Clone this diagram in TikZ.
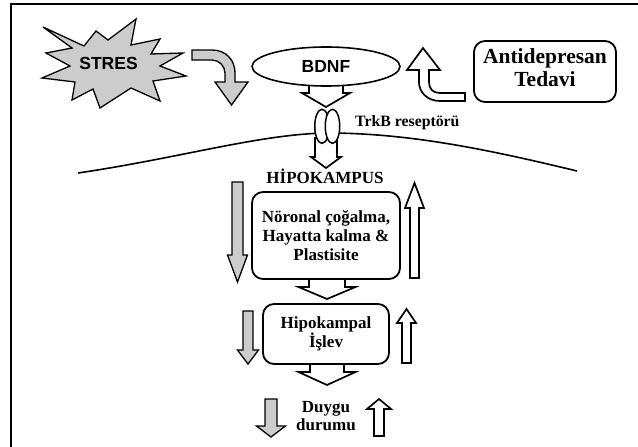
\documentclass[tikz,border=0pt]{standalone}
\usepackage{fontspec}
\setmainfont{Liberation Serif}
\newfontfamily\arialf{Liberation Sans}
\usetikzlibrary{shapes.geometric}
\newcommand{\varr}[7]{%
  \draw[#1] ({#2-#3},#5) -- ({#2-#3},#6) -- ({#2-#4},#6) -- (#2,#7) -- ({#2+#4},#6) -- ({#2+#3},#6) -- ({#2+#3},#5) -- cycle;}
\begin{document}
\begin{tikzpicture}[x=1pt,y=-1pt,
  frameline/.style={line width=2pt},
  boxst/.style={draw, line width=1.8pt, rounded corners=11pt, align=center, inner sep=0pt,
    font=\bfseries\fontsize{17}{19}\selectfont},
  lbl/.style={align=center, inner sep=0pt, font=\bfseries\fontsize{17}{18}\selectfont},
  grayarr/.style={draw, line width=1.3pt, fill=gray!40, line join=miter},
  whitearr/.style={draw, line width=1.7pt, fill=white, line join=miter},
  sanslbl/.style={inner sep=0pt, font=\arialf\bfseries\fontsize{17.5}{17.5}\selectfont}]
\useasboundingbox (0,0) rectangle (638,447);
\fill[white] (0,0) rectangle (638,447);
% frame
\draw[frameline] (11,447) -- (11,4) -- (638,4);
% stress star
\draw[grayarr] (43,27) -- (84,46) -- (96,31) -- (108,40) -- (136,19) -- (131,45) -- (160,39) -- (151,54)
  -- (183,53) -- (160,66) -- (186,76) -- (153,81) -- (160,101) -- (131,88) -- (100,108) -- (93,89)
  -- (72,100) -- (75,82) -- (42,78) -- (70,66) -- (46,53) -- (72,48) -- cycle;
\node[sanslbl] (stres) at (108.5,63) {STRES};
% stress curved arrow
\draw[grayarr] (192,50) -- (212,50) .. controls (226,50) and (235,60) .. (235,73) -- (235,82) -- (248,82)
  -- (231.5,105) -- (215,82) -- (225,82) -- (225,73) .. controls (225,66) and (219,60) .. (212,60) -- (192,60) -- cycle;
% BDNF arrow and ellipse
\varr{whitearr}{326}{17}{24}{78}{93}{107}
\node[draw, ellipse, line width=1.6pt, fill=white, minimum width=148pt, minimum height=39pt, inner sep=0pt,
  sanslbl] (bdnf) at (326,66.5) {BDNF};
% antidepressant box and arrow
\node[boxst, minimum width=142pt, minimum height=61pt] (anti) at (545,71.5) {};
\node[lbl, font=\bfseries\fontsize{21.5}{23}\selectfont] (antitxt) at (545,68) {Antidepresan\\Tedavi};
\draw[whitearr] (423,48) -- (440,70) -- (429,70) -- (429,82) .. controls (429,89) and (433,93) .. (440,93)
  -- (465,93) -- (465,101) -- (440,101) .. controls (427,101) and (419,92) .. (419,82) -- (419,70) -- (407,70) -- cycle;
% membrane and receptor
\draw[line width=1.6pt] (78,173) .. controls (180,158) and (260,134) .. (327,133)
  .. controls (410,133) and (490,150) .. (577,171);
\varr{whitearr}{326}{11}{15}{138}{157}{168}
\node[draw, ellipse, line width=1.5pt, fill=white, minimum width=14.5pt, minimum height=34pt, inner sep=0pt] (r1) at (322,126.3) {};
\node[draw, ellipse, line width=1.5pt, fill=white, minimum width=14.5pt, minimum height=34pt, inner sep=0pt] (r2) at (332.5,126.3) {};
\node[lbl, font=\bfseries\fontsize{15.8}{15.8}\selectfont, anchor=base west] (trkb) at (355,126) {TrkB reseptörü};
% hippocampus
\node[lbl] (hipo) at (325,176) {HİPOKAMPUS};
\node[boxst, minimum width=148pt, minimum height=87pt] (noro) at (326,235.5) {Nöronal çoğalma,\\Hayatta kalma \&\\Plastisite};
\varr{grayarr}{237.5}{5.5}{10}{182}{255}{282}
\varr{whitearr}{414.5}{4.5}{9.5}{278}{208}{183}
\varr{whitearr}{327}{18}{28.5}{279}{287}{299}
\node[boxst, minimum width=126pt, minimum height=60pt, font=\bfseries\fontsize{17}{18}\selectfont] (hipf) at (326,334) {Hipokampal\\İşlev};
\varr{grayarr}{248}{5}{10.5}{311}{350}{364}
\varr{whitearr}{406.5}{4.5}{9.5}{363}{323}{309}
\varr{whitearr}{327}{17}{28.5}{364}{372}{385}
% mood
\node[lbl] (duygu) at (326,416) {Duygu\\durumu};
\varr{grayarr}{271}{6}{14.5}{399}{426}{437}
\varr{whitearr}{379}{5}{12}{436}{409}{399}
\end{tikzpicture}
\end{document}
